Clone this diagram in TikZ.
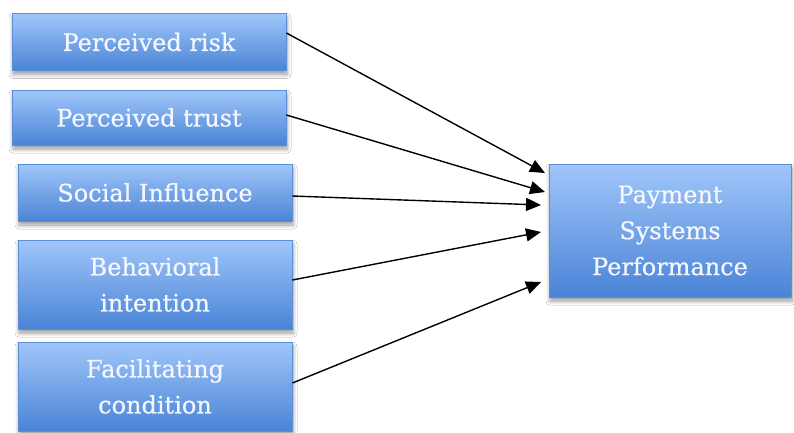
\documentclass[tikz,border=0pt]{standalone}
\usepackage{fontspec}
\setmainfont{DejaVu Serif}
\newfontfamily\boxfont[FakeBold=0.6]{DejaVu Serif}
\usetikzlibrary{arrows.meta,shadows.blur}
\definecolor{boxtop}{HTML}{A0C6FA}
\definecolor{boxbot}{HTML}{4A84D6}
\definecolor{boxedge}{HTML}{5A8FD8}
\definecolor{txt}{HTML}{F4F7FD}
\tikzset{
  factor/.style={rectangle, draw=boxedge, line width=0.8pt, top color=boxtop, bottom color=boxbot,
    text=txt, align=center, inner sep=0pt,
    font=\boxfont\fontsize{24}{36}\selectfont,
    blur shadow={shadow xshift=1pt, shadow yshift=-4pt, shadow blur steps=8, shadow blur radius=4pt, shadow opacity=40}},
  link/.style={line width=1.4pt, -{Triangle[length=15pt,width=13pt]}}
}
\begin{document}
\begin{tikzpicture}[x=1pt,y=-1pt]
\useasboundingbox (0,0) rectangle (794,432);
\fill[white] (0,0) rectangle (794,432);
\node[factor, minimum width=274pt, minimum height=57pt] (r) at (149,42) {Perceived risk};
\node[factor, minimum width=274pt, minimum height=55pt] (t) at (149,117.5) {Perceived trust};
\node[factor, minimum width=274pt, minimum height=57pt] (s) at (155,192.5) {Social Influence};
\node[factor, minimum width=274pt, minimum height=89pt] (b) at (155,284.5) {Behavioral\\intention};
\node[factor, minimum width=274pt, minimum height=89pt] (f) at (155,386.5) {Facilitating\\condition};
\node[factor, minimum width=242pt, minimum height=133pt] (p) at (670,230.5) {Payment\\Systems\\Performance};
\coordinate (e1) at (545,173);
\coordinate (e2) at (545,192);
\coordinate (e3) at (541,205);
\coordinate (e4) at (541,232);
\coordinate (e5) at (541,282);
\draw[link] ([yshift=9pt]r.east) -- (e1);
\draw[link] ([yshift=2.5pt]t.east) -- (e2);
\draw[link] ([yshift=-3.5pt]s.east) -- (e3);
\draw[link] ([yshift=4.5pt]b.east) -- (e4);
\draw[link] ([yshift=3.5pt]f.east) -- (e5);
\end{tikzpicture}
\end{document}
